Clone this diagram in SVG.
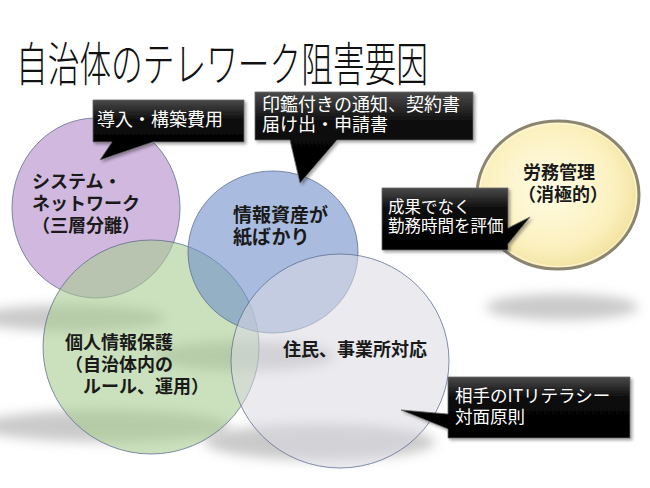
<svg xmlns="http://www.w3.org/2000/svg" width="650" height="488" viewBox="0 0 650 488">
<defs>
<style>
.title{font-family:"Noto Sans CJK JP","Noto Sans",sans-serif;font-size:47px;font-weight:300;fill:#111}
.ct{font-family:"Noto Sans CJK JP","Noto Sans",sans-serif;font-size:18px;font-weight:bold;fill:#1a1a1a}
.cl{font-family:"Noto Sans CJK JP","Noto Sans",sans-serif;font-size:18px;fill:#fff}
.circ{stroke:#5a6a8c;stroke-opacity:0.75;stroke-width:1}
.box{fill:url(#boxg);stroke:#6a6a6a;stroke-width:0.8;filter:url(#ds)}
.sh{fill:#8a8a8a;opacity:0.45;filter:url(#blur)}
</style>
<linearGradient id="boxg" x1="0" y1="0" x2="0" y2="1">
<stop offset="0" stop-color="#4a4a4a"/>
<stop offset="0.35" stop-color="#0a0a0a"/>
<stop offset="1" stop-color="#000"/>
</linearGradient>
<radialGradient id="yel" cx="0.45" cy="0.45" r="0.6">
<stop offset="0" stop-color="#fffce6"/>
<stop offset="0.7" stop-color="#fbf0bd"/>
<stop offset="1" stop-color="#f0df98"/>
</radialGradient>
<filter id="blur" x="-30%" y="-100%" width="160%" height="300%"><feGaussianBlur stdDeviation="6"/></filter>
<filter id="ds" x="-10%" y="-10%" width="125%" height="130%"><feDropShadow dx="2" dy="2" stdDeviation="1.5" flood-color="#000" flood-opacity="0.35"/></filter>
</defs>
<rect width="650" height="488" fill="#fff"/>
<text class="title" x="16" y="81" textLength="412" lengthAdjust="spacingAndGlyphs">自治体のテレワーク阻害要因</text>
<g id="shadows">
<ellipse class="sh" cx="70" cy="318" rx="95" ry="13"/>
<ellipse class="sh" cx="245" cy="356" rx="90" ry="15"/>
<ellipse class="sh" cx="105" cy="426" rx="125" ry="16"/>
<ellipse class="sh" cx="320" cy="442" rx="115" ry="18"/>
<ellipse class="sh" cx="562" cy="307" rx="76" ry="13"/>
</g>
<g id="node-system">
<ellipse class="circ" cx="96" cy="208" rx="84" ry="90" fill="#b088c8" fill-opacity="0.6"/>
<text class="ct" x="32" y="188">システム・</text>
<text class="ct" x="32" y="210">ネットワーク</text>
<text class="ct" x="32" y="232">（三層分離）</text>
</g>
<g id="node-privacy">
<ellipse class="circ" cx="151" cy="347" rx="108" ry="107" fill="#a8cc90" fill-opacity="0.6"/>
<text class="ct" x="65" y="349">個人情報保護</text>
<text class="ct" x="65" y="371">（自治体内の</text>
<text class="ct" x="65" y="393">　ルール、運用）</text>
</g>
<g id="node-paper">
<ellipse class="circ" cx="273" cy="252" rx="85" ry="81" fill="#6f8fcc" fill-opacity="0.6"/>
<text class="ct" x="233" y="222" style="font-size:19px">情報資産が</text>
<text class="ct" x="233" y="244" style="font-size:19px">紙ばかり</text>
</g>
<g id="node-resident">
<ellipse class="circ" cx="340" cy="361" rx="109" ry="107" fill="#d8d8e2" fill-opacity="0.55"/>
<text class="ct" x="283" y="356">住民、事業所対応</text>
</g>
<g id="node-labor">
<ellipse cx="558" cy="195" rx="81" ry="74" fill="url(#yel)" stroke="#8a8470" stroke-width="3"/>
<ellipse cx="558" cy="195" rx="78.5" ry="71.5" fill="none" stroke="#fffdf0" stroke-opacity="0.7" stroke-width="1"/>
<text class="ct" x="523" y="179">労務管理</text>
<text class="ct" x="518" y="201">（消極的）</text>
</g>
<g id="callout-cost">
<path class="box" d="M93,100 H244 V142 H153 L100,160 L112,142 H93 Z"/>
<text class="cl" x="97" y="126">導入・構築費用</text>
</g>
<g id="callout-paper">
<path class="box" d="M255,92 H473 V140 H337 L300,183 L290,140 H255 Z"/>
<text class="cl" x="262" y="111">印鑑付きの通知、契約書</text>
<text class="cl" x="262" y="131">届け出・申請書</text>
</g>
<g id="callout-labor">
<path class="box" d="M382,188 H508 V228 L530,217 L508,244 V250 H382 Z"/>
<text class="cl" x="388" y="213" style="font-size:16.5px">成果でなく</text>
<text class="cl" x="388" y="232" style="font-size:16.5px">勤務時間を評価</text>
</g>
<g id="callout-resident">
<path class="box" d="M448,377 H630 V438 H448 V429 L401,410 L448,414 Z"/>
<text class="cl" x="455" y="402" style="font-size:17.5px">相手のITリテラシー</text>
<text class="cl" x="455" y="423" style="font-size:17.5px">対面原則</text>
</g>
</svg>
